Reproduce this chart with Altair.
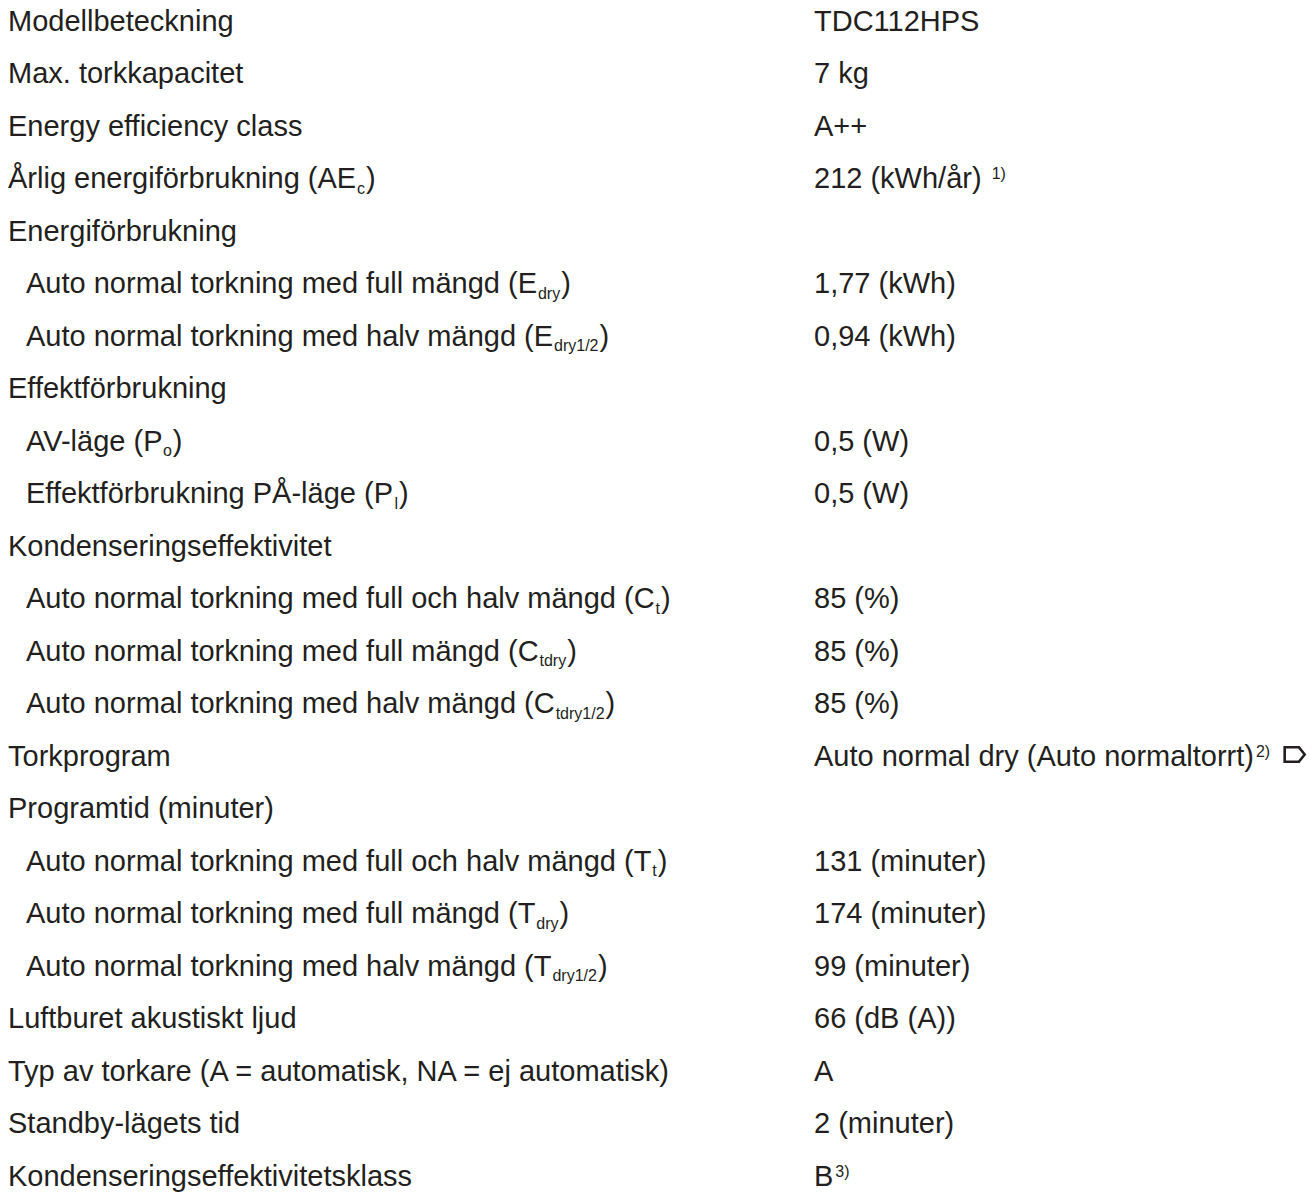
import altair as alt
import pandas as pd

# ---- table content ----
left_text = [
    "Modellbeteckning",
    "Max. torkkapacitet",
    "Energy efficiency class",
    "Årlig energiförbrukning (AE",
    "Energiförbrukning",
    "Auto normal torkning med full mängd (E",
    "Auto normal torkning med halv mängd (E",
    "Effektförbrukning",
    "AV-läge (P",
    "Effektförbrukning PÅ-läge (P",
    "Kondenseringseffektivitet",
    "Auto normal torkning med full och halv mängd (C",
    "Auto normal torkning med full mängd (C",
    "Auto normal torkning med halv mängd (C",
    "Torkprogram",
    "Programtid (minuter)",
    "Auto normal torkning med full och halv mängd (T",
    "Auto normal torkning med full mängd (T",
    "Auto normal torkning med halv mängd (T",
    "Luftburet akustiskt ljud",
    "Typ av torkare (A = automatisk, NA = ej automatisk)",
    "Standby-lägets tid",
    "Kondenseringseffektivitetsklass",
]
left_sub = ["", "", "", "c", "", "dry", "dry1/2", "", "o", "l", "", "t", "tdry",
            "tdry1/2", "", "", "t", "dry", "dry1/2", "", "", "", ""]
left_indent = [0, 0, 0, 0, 0, 1, 1, 0, 1, 1, 0, 1, 1, 1, 0, 0, 1, 1, 1, 0, 0, 0, 0]

right_text = ["TDC112HPS", "7 kg", "A++", "212 (kWh/år) ", "", "1,77 (kWh)",
              "0,94 (kWh)", "", "0,5 (W)", "0,5 (W)", "", "85 (%)", "85 (%)",
              "85 (%)", "Auto normal dry (Auto normaltorrt)", "", "131 (minuter)",
              "174 (minuter)", "99 (minuter)", "66 (dB (A))", "A", "2 (minuter)", "B"]
right_sup = ["", "", "", "1)", "", "", "", "", "", "", "", "", "", "",
             "2)", "", "", "", "", "", "", "", "3)"]
right_symbol = [False] * 14 + [True] + [False] * 8

# ---- font metrics (Arial / Liberation Sans advance widths, per 1000 em) ----
W = {' ': 278, '(': 333, ')': 333, '.': 278, ',': 278, '-': 333, '/': 278,
     '=': 584, '%': 889, '+': 584}
for d in "0123456789":
    W[d] = 556
W.update({'A': 667, 'B': 667, 'C': 722, 'D': 722, 'E': 667, 'F': 611, 'G': 778,
          'H': 722, 'I': 278, 'J': 500, 'K': 667, 'L': 556, 'M': 833, 'N': 722,
          'O': 778, 'P': 667, 'Q': 778, 'R': 722, 'S': 667, 'T': 611, 'U': 722,
          'V': 667, 'W': 944, 'X': 667, 'Y': 667, 'Z': 611, 'Å': 667,
          'a': 556, 'b': 556, 'c': 500, 'd': 556, 'e': 556, 'f': 278, 'g': 556,
          'h': 556, 'i': 222, 'j': 222, 'k': 500, 'l': 222, 'm': 833, 'n': 556,
          'o': 556, 'p': 556, 'q': 556, 'r': 333, 's': 500, 't': 278, 'u': 556,
          'v': 500, 'w': 722, 'x': 500, 'y': 500, 'z': 500, 'ä': 556, 'å': 556,
          'ö': 556})
KERN = {("A", "V"): -74, ("V", "-"): -74}

FS = 29        # main font size
FS_SMALL = 16  # sub/superscript font size


def tw(s, size):
    total = sum(W.get(c, 556) for c in s)
    total += sum(KERN.get((a, b), 0) for a, b in zip(s, s[1:]))
    return total * size / 1000.0


LEFT_X = 0
INDENT_X = 18
RIGHT_X = 806

rows = []
for i, t in enumerate(left_text):
    x0 = INDENT_X if left_indent[i] else LEFT_X
    rows.append(dict(row=i, x=x0, t=t, kind="main"))
    if left_sub[i]:
        xs = x0 + tw(t, FS) + 1
        rows.append(dict(row=i, x=xs, t=left_sub[i], kind="sub"))
        xc = xs + tw(left_sub[i], FS_SMALL) + 1
        rows.append(dict(row=i, x=xc, t=")", kind="main"))

sym_rows = []
for i, t in enumerate(right_text):
    if t:
        rows.append(dict(row=i, x=RIGHT_X, t=t, kind="main"))
    xe = RIGHT_X + tw(t, FS)
    if right_sup[i]:
        rows.append(dict(row=i, x=xe + 2, t=right_sup[i], kind="sup"))
        xe = xe + 2 + tw(right_sup[i], FS_SMALL)
    if right_symbol[i]:
        sym_rows.append(dict(row=i, x=xe + 24.5, t="", kind="sym"))

df = pd.DataFrame(rows)
sdf = pd.DataFrame(sym_rows)

NROWS = len(left_text)
STEP = 52.5
x_enc = alt.X("x:Q", scale=alt.Scale(domain=[0, 1299], range=[0, 1299], nice=False, zero=False), axis=None)
y_enc = alt.Y("row:O", scale=alt.Scale(domain=list(range(NROWS)), range=[0, NROWS * STEP],
                                        paddingInner=0, paddingOuter=0), axis=None)

COLOR = "#231f20"
FONT = "Liberation Sans"
DY = -3.75

base = alt.Chart(df).encode(x=x_enc, y=y_enc, text="t:N")

main = base.transform_filter(alt.datum.kind == "main").mark_text(
    align="left", baseline="alphabetic", font=FONT, fontSize=FS, color=COLOR, dy=DY)
sub = base.transform_filter(alt.datum.kind == "sub").mark_text(
    align="left", baseline="alphabetic", font=FONT, fontSize=FS_SMALL, color=COLOR, dy=DY + 5.5)
sup = base.transform_filter(alt.datum.kind == "sup").mark_text(
    align="left", baseline="alphabetic", font=FONT, fontSize=FS_SMALL, color=COLOR, dy=DY - 8.8)

sym = alt.Chart(sdf).mark_point(
    shape="M -1 -0.72 L 0.42 -0.72 L 1 0 L 0.42 0.72 L -1 0.72 Z",
    filled=False, stroke=COLOR, strokeWidth=2.6, size=400, opacity=1, yOffset=DY - 11,
).encode(x=x_enc, y=y_enc)

chart = alt.layer(main, sub, sup, sym).properties(
    width=1299, height=1184, padding=0,
    autosize=alt.AutoSizeParams(type="none"),
).configure(background="white").configure_view(stroke=None)

chart.save("out.html", embed_options={"renderer": "svg", "actions": False})
